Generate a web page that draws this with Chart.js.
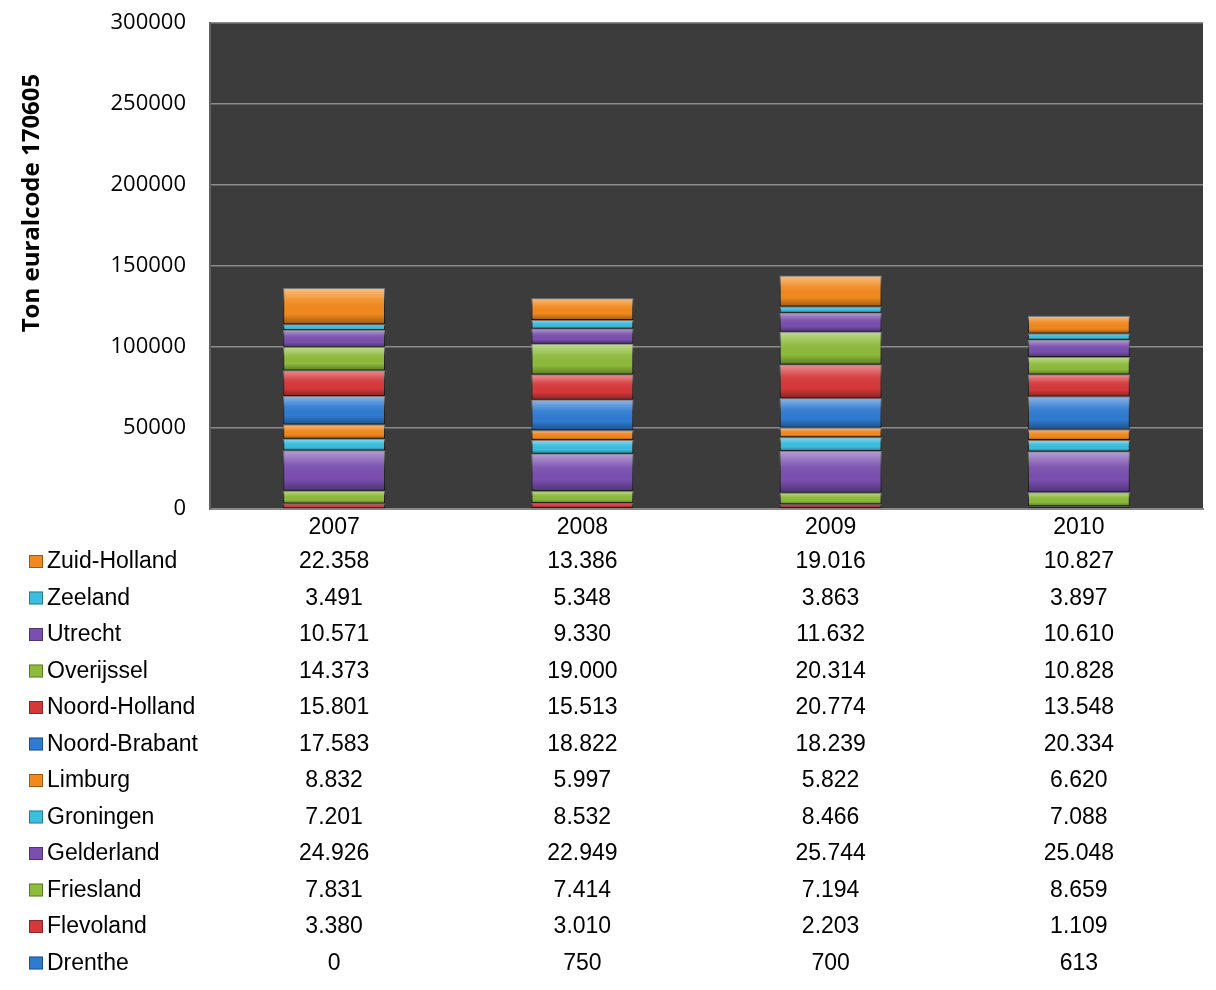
<!DOCTYPE html>
<html lang="nl">
<head>
  <meta charset="UTF-8" />
  <title>Ton euralcode 170605</title>
  <script src="https://cdn.jsdelivr.net/npm/chart.js"></script>
  <style>
    html, body { margin: 0; padding: 0; background: #fff; }
    #wrap { width: 1216px; height: 990px; }
  </style>
</head>
<body>
  <div id="wrap"><canvas id="chart" width="1216" height="990"></canvas></div>
  <script>
    const years = ['2007', '2008', '2009', '2010'];
    const yTicks = [0, 50000, 100000, 150000, 200000, 250000, 300000];

    const drenthe      = [0, 750, 700, 613];
    const flevoland    = [3380, 3010, 2203, 1109];
    const friesland    = [7831, 7414, 7194, 8659];
    const gelderland   = [24926, 22949, 25744, 25048];
    const groningen    = [7201, 8532, 8466, 7088];
    const limburg      = [8832, 5997, 5822, 6620];
    const noordBrabant = [17583, 18822, 18239, 20334];
    const noordHolland = [15801, 15513, 20774, 13548];
    const overijssel   = [14373, 19000, 20314, 10828];
    const utrecht      = [10571, 9330, 11632, 10610];
    const zeeland      = [3491, 5348, 3863, 3897];
    const zuidHolland  = [22358, 13386, 19016, 10827];

    const provinces = ['Drenthe', 'Flevoland', 'Friesland', 'Gelderland', 'Groningen', 'Limburg',
      'Noord-Brabant', 'Noord-Holland', 'Overijssel', 'Utrecht', 'Zeeland', 'Zuid-Holland'];
    const series = [drenthe, flevoland, friesland, gelderland, groningen, limburg,
      noordBrabant, noordHolland, overijssel, utrecht, zeeland, zuidHolland];

    const blue = '#2f7bd2', red = '#d6383a', green = '#8dbb3a',
          purple = '#7a4fb0', cyan = '#3bbedf', orange = '#f2891e';
    const colors = [blue, red, green, purple, cyan, orange, blue, red, green, purple, cyan, orange];

    // dutch thousands separator
    function fmt(v) {
      return String(v).replace(/\B(?=(\d{3})+(?!\d))/g, '.');
    }

    const plotBg = {
      id: 'plotBg',
      beforeDraw(chart) {
        const { ctx, chartArea: a } = chart;
        ctx.save();
        ctx.fillStyle = '#3c3c3c';
        ctx.fillRect(a.left, a.top, a.right - a.left, a.bottom - a.top);
        ctx.restore();
      }
    };

    // glossy look on each segment
    const gloss = {
      id: 'gloss',
      afterDatasetsDraw(chart) {
        const ctx = chart.ctx;
        ctx.save();
        chart.data.datasets.forEach((ds, i) => {
          chart.getDatasetMeta(i).data.forEach(bar => {
            const top = Math.min(bar.y, bar.base), bot = Math.max(bar.y, bar.base);
            const h = bot - top;
            if (h < 1) return;
            const l = bar.x - bar.width / 2;
            const g = ctx.createLinearGradient(0, top, 0, bot);
            g.addColorStop(0, 'rgba(255,255,255,0.45)');
            g.addColorStop(0.35, 'rgba(255,255,255,0.08)');
            g.addColorStop(0.7, 'rgba(0,0,0,0)');
            g.addColorStop(1, 'rgba(0,0,0,0.35)');
            ctx.fillStyle = g;
            ctx.fillRect(l, top, bar.width, h);
          });
        });
        ctx.restore();
      }
    };

    const dataTable = {
      id: 'dataTable',
      afterDraw(chart) {
        const ctx = chart.ctx;
        const xs = chart.scales.x;
        ctx.save();
        ctx.textBaseline = 'middle';
        ctx.font = '23px "Liberation Sans", Arial, sans-serif';
        const n = series.length;
        for (let r = 0; r < n; r++) {
          const i = n - 1 - r;
          const y = 562 + r * 36.5;
          ctx.fillStyle = colors[i];
          ctx.fillRect(29, y - 7, 14, 13);
          ctx.strokeStyle = 'rgba(0,0,0,0.35)';
          ctx.lineWidth = 1;
          ctx.strokeRect(29.5, y - 6.5, 13, 12);
          ctx.fillStyle = '#000';
          ctx.textAlign = 'left';
          ctx.fillText(provinces[i], 47, y);
          ctx.textAlign = 'center';
          series[i].forEach((v, j) => ctx.fillText(fmt(v), xs.getPixelForValue(j), y));
        }
        // axis title
        ctx.translate(32, 203);
        ctx.rotate(-Math.PI / 2);
        ctx.textAlign = 'center';
        ctx.font = 'bold 24px "Open Sans", sans-serif';
        ctx.fillText('Ton euralcode 170605', 0, 0);
        ctx.restore();
      }
    };

    new Chart(document.getElementById('chart'), {
      type: 'bar',
      data: {
        labels: years,
        datasets: provinces.map((p, i) => ({
          label: p,
          data: series[i],
          backgroundColor: colors[i],
          borderColor: 'rgba(20,20,20,0.6)',
          borderWidth: 1,
          borderSkipped: false,
          barPercentage: 0.41,
          categoryPercentage: 1
        }))
      },
      options: {
        responsive: false,
        animation: false,
        layout: { padding: { top: 23, right: 13, left: 0, bottom: 0 } },
        plugins: { legend: { display: false }, tooltip: { enabled: false } },
        scales: {
          x: {
            stacked: true,
            afterFit: s => { s.height = 481; },
            grid: { display: false, drawTicks: false },
            border: { color: '#8a8a8a', width: 2 },
            ticks: { color: '#000', padding: 5, font: { family: '"Liberation Sans", Arial, sans-serif', size: 23 } }
          },
          y: {
            stacked: true,
            min: 0,
            max: 300000,
            afterFit: s => { s.width = 210; s.paddingTop = 0; s.paddingBottom = 0; },
            afterBuildTicks: s => { s.ticks = yTicks.map(v => ({ value: v })); },
            grid: { color: '#8c8c8c', lineWidth: 1.5, drawTicks: false },
            border: { color: '#606060', width: 2 },
            ticks: {
              color: '#000', padding: 24,
              font: { family: '"Open Sans", sans-serif', size: 22 },
              callback: v => String(v)
            }
          }
        }
      },
      plugins: [plotBg, gloss, dataTable]
    });
  </script>
</body>
</html>
